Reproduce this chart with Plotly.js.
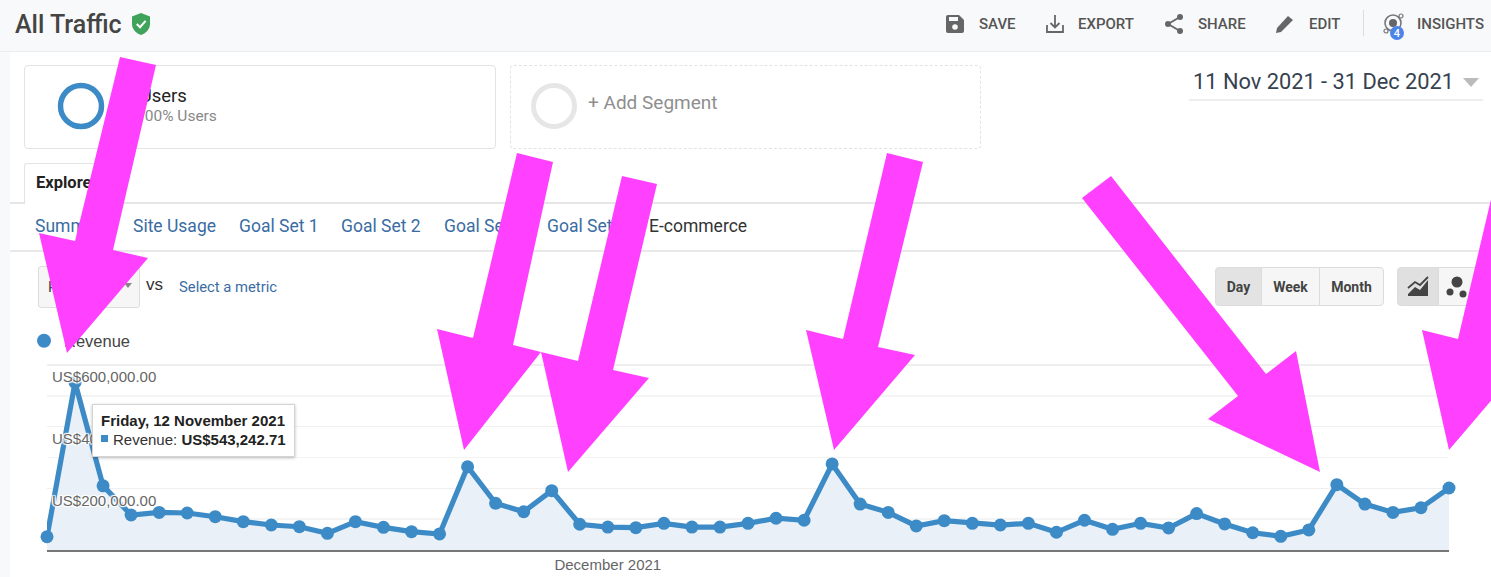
<!DOCTYPE html>
<html><head><meta charset="utf-8">
<script src="https://cdn.plot.ly/plotly-3.0.1.min.js"></script>
<style>
html,body{margin:0;padding:0;background:#fff;overflow:hidden}
#page{position:relative;width:1491px;height:577px;overflow:hidden;background:#fff;font-family:Roboto,sans-serif}
#page>*{position:absolute}
#chart{left:0;top:0;width:1491px;height:577px}
.t{white-space:nowrap;line-height:1;transform:translateY(-50%)}
.tool{font-size:15px;font-weight:500;color:#555}
.nav{font-size:17.5px;color:#3a6ca3;top:227px}
.btn{top:267px;height:39px;font-size:14px;font-weight:700;color:#444;display:flex;align-items:center;justify-content:center;background:#f6f6f6;border:1px solid #dcdcdc;box-sizing:border-box}
#tip{left:92px;top:404px;width:203px;height:53px;box-sizing:border-box;background:#fff;border:1px solid #d4d4d4;box-shadow:0 1px 3px rgba(0,0,0,.25);font-family:"Liberation Sans",Arial,sans-serif;color:#333;font-size:15px}
</style></head><body>
<div id="page">
  <div style="left:0;top:0;width:1491px;height:51px;background:#f8f9fa;border-bottom:1px solid #ececec"></div>
  <div style="left:0;top:52px;width:10px;height:525px;background:#f8f9fb"></div>

  <div class="t" style="left:15px;top:24px;font-size:25px;font-weight:500;color:#444">All Traffic</div>
  <svg style="left:130px;top:12px" width="22" height="24" viewBox="0 0 22 24"><path d="M11 1 L20 4.5 V12 C20 17.5 15.5 21.5 11 23 C6.5 21.5 2 17.5 2 12 V4.5 Z" fill="#3fa35b"/><path d="M6.8 12 L10 15.2 L15.6 8.8" fill="none" stroke="#fff" stroke-width="2"/></svg>

  <svg style="left:945px;top:14px" width="20" height="20" viewBox="0 0 20 20"><path d="M1 3 a2 2 0 0 1 2-2 H14 L19 6 V17 a2 2 0 0 1-2 2 H3 a2 2 0 0 1-2-2 Z" fill="#666"/><rect x="4" y="3" width="9" height="4" fill="#f8f9fa"/><circle cx="10" cy="13" r="2.8" fill="#f8f9fa"/></svg>
  <div class="t tool" style="left:979px;top:24px">SAVE</div>
  <svg style="left:1045px;top:14px" width="20" height="20" viewBox="0 0 20 20"><path d="M2 11 V18 H18 V11 M10 1 V13 M5.5 9 L10 13.5 L14.5 9" fill="none" stroke="#666" stroke-width="1.8"/></svg>
  <div class="t tool" style="left:1078px;top:24px">EXPORT</div>
  <svg style="left:1164px;top:13px" width="20" height="22" viewBox="0 0 20 22"><path d="M16 4 L4 11 L16 18" fill="none" stroke="#666" stroke-width="1.8"/><circle cx="16" cy="4" r="3" fill="#666"/><circle cx="4" cy="11" r="3" fill="#666"/><circle cx="16" cy="18" r="3" fill="#666"/></svg>
  <div class="t tool" style="left:1198px;top:24px">SHARE</div>
  <svg style="left:1275px;top:14px" width="20" height="20" viewBox="0 0 20 20"><path d="M1 19 L2 14 L13 2 L18 6 L6 18 Z" fill="#666"/></svg>
  <div class="t tool" style="left:1309px;top:24px">EDIT</div>
  <div style="left:1363px;top:10px;width:1px;height:26px;background:#ddd"></div>
  <svg style="left:1382px;top:12px" width="30" height="30" viewBox="0 0 30 30"><circle cx="11" cy="11" r="8" fill="none" stroke="#777" stroke-width="1.6"/><circle cx="11" cy="11" r="4" fill="#666"/><circle cx="19" cy="4" r="2" fill="none" stroke="#777" stroke-width="1.2"/><circle cx="4" cy="19" r="2" fill="none" stroke="#777" stroke-width="1.2"/><circle cx="15" cy="21" r="7" fill="#4c84ea"/><text x="15" y="25" font-size="11" font-weight="500" font-family="Roboto" fill="#fff" text-anchor="middle">4</text></svg>
  <div class="t tool" style="left:1417px;top:24px">INSIGHTS</div>

  <div style="left:24px;top:65px;width:472px;height:84px;box-sizing:border-box;background:#fff;border:1px solid #e3e3e3;border-radius:4px"></div>
  <svg style="left:50px;top:75px" width="62" height="62"><circle cx="31" cy="31" r="20.5" fill="none" stroke="#3d8bc6" stroke-width="5.5"/></svg>
  <div class="t" style="left:114px;top:96px;font-size:18.5px;color:#222">All Users</div>
  <div class="t" style="left:136px;top:117px;font-size:15.5px;color:#888">100% Users</div>
  <div style="left:510px;top:65px;width:471px;height:84px;box-sizing:border-box;background:#fff;border:1px dashed #e3e3e3;border-radius:4px"></div>
  <svg style="left:524px;top:76px" width="60" height="60"><circle cx="30" cy="30" r="20.5" fill="none" stroke="#e6e6e6" stroke-width="5"/></svg>
  <div class="t" style="left:588px;top:102px;font-size:19px;color:#8e8e8e">+ Add Segment</div>

  <div class="t" style="left:1193px;top:82px;font-size:21.8px;color:#36424f">11 Nov 2021 - 31 Dec 2021</div>
  <svg style="left:1463px;top:78px" width="16" height="9"><path d="M0 0 H16 L8 9 Z" fill="#bbb"/></svg>
  <div style="left:1189px;top:99px;width:294px;height:2px;background:#eeeeee"></div>

  <div style="left:10px;top:202px;width:1481px;height:2px;background:#e6e6e6"></div>
  <div style="left:24px;top:163px;width:90px;height:41px;box-sizing:border-box;background:#fff;border:1px solid #e3e3e3;border-bottom:none;border-radius:3px 3px 0 0"></div>
  <div class="t" style="left:36px;top:183px;font-size:16.5px;font-weight:700;color:#222">Explorer</div>
  <div style="left:10px;top:250px;width:1481px;height:2px;background:#e9e9e9"></div>
  <div class="t nav" style="left:35px">Summary</div>
  <div class="t nav" style="left:133px">Site Usage</div>
  <div class="t nav" style="left:239px">Goal Set 1</div>
  <div class="t nav" style="left:341px">Goal Set 2</div>
  <div class="t nav" style="left:444px">Goal Set 3</div>
  <div class="t nav" style="left:547px">Goal Set 4</div>
  <div class="t nav" style="left:649px;color:#333">E-commerce</div>

  <div style="left:38px;top:266px;width:102px;height:42px;box-sizing:border-box;background:#f6f6f6;border:1px solid #ddd;border-radius:3px"></div>
  <div class="t" style="left:48px;top:287px;font-size:15px;color:#444">Revenue</div>
  <svg style="left:124px;top:283px" width="8" height="5"><path d="M0 0 H8 L4 5 Z" fill="#888"/></svg>
  <div class="t" style="left:146px;top:284px;font-size:17px;color:#333;font-family:'Liberation Sans',Arial,sans-serif">vs</div>
  <div class="t" style="left:179px;top:287px;font-size:14.8px;color:#3a6ca3">Select a metric</div>

  <div class="btn" style="left:1215px;width:47px;background:#e3e3e3;border-radius:4px 0 0 4px">Day</div>
  <div class="btn" style="left:1261px;width:59px">Week</div>
  <div class="btn" style="left:1319px;width:65px;border-radius:0 4px 4px 0">Month</div>
  <div class="btn" style="left:1397px;width:42px;background:#e0e0e0;border-radius:4px 0 0 4px"><svg width="24" height="24" viewBox="0 0 24 24"><path d="M2 19 L9 12 L14 15 L22 5 V21 H2 Z" fill="#444"/><path d="M2 13 L9 7 L14 10 L22 2" fill="none" stroke="#444" stroke-width="1.8"/></svg></div>
  <div class="btn" style="left:1438px;width:60px;justify-content:flex-start;padding-left:6px"><svg width="24" height="24" viewBox="0 0 24 24"><circle cx="12" cy="7" r="5.5" fill="#444"/><circle cx="5" cy="17" r="3.5" fill="#444"/><circle cx="18" cy="19" r="3.5" fill="#444"/></svg></div>

  <div id="chart"></div>

  <div id="tip">
    <div class="t" style="position:absolute;left:8px;top:15px;font-weight:700;color:#222" id="tipDate"></div>
    <div style="position:absolute;left:8px;top:30px;width:7px;height:7px;background:#3d8bc6"></div>
    <div class="t" style="position:absolute;left:20px;top:34px" id="tipVal"></div>
  </div>

  <svg style="left:0;top:0" width="1491" height="577">
    <g fill="#ff40ff">
      <polygon points="120,57 156,65 113,250 148,258 67,353 39,233 75,241"/>
      <polygon points="517,153 553,162 513,345 541,352 464,450 437,329 473,338"/>
      <polygon points="622,176 657,184 613,370 649,378 568,472 541,352 578,361"/>
      <polygon points="887,153 923,162 878,347 915,355 834,450 806,330 843,339"/>
      <polygon points="1111,176 1082,198 1238,396 1208,419 1320,472 1296,351 1266,374"/>
      <polygon points="1502,153 1538,162 1493,347 1530,355 1449,450 1422,330 1458,339"/>
    </g>
  </svg>
</div>
<script>
var days = ["2021-11-11","2021-11-12","2021-11-13","2021-11-14","2021-11-15","2021-11-16","2021-11-17","2021-11-18","2021-11-19","2021-11-20","2021-11-21","2021-11-22","2021-11-23","2021-11-24","2021-11-25","2021-11-26","2021-11-27","2021-11-28","2021-11-29","2021-11-30",
"2021-12-01","2021-12-02","2021-12-03","2021-12-04","2021-12-05","2021-12-06","2021-12-07","2021-12-08","2021-12-09","2021-12-10","2021-12-11","2021-12-12","2021-12-13","2021-12-14","2021-12-15","2021-12-16","2021-12-17","2021-12-18","2021-12-19","2021-12-20","2021-12-21","2021-12-22","2021-12-23","2021-12-24","2021-12-25","2021-12-26","2021-12-27","2021-12-28","2021-12-29","2021-12-30","2021-12-31"];
var revenue = [43000,543242.71,208000,113500,122000,120000,108000,92000,81000,75500,54000,92000,73500,59500,52000,270000,151500,124000,192500,83500,
74500,72500,86500,74500,74500,86500,103000,96500,279000,149000,122000,78000,95000,86500,81000,86500,57500,96500,67000,86500,71500,118000,84500,56000,44500,65000,212000,149000,122000,137000,201000];
var seriesName = "Revenue";
var yTicks = [0,200000,400000,600000];
var yLabels = ["","US$200,000.00","US$400,000.00","US$600,000.00"];
var yMinor = [100000,300000,500000];
var xTicks = ["2021-12-01"];
var xLabels = ["December 2021"];
var tipDate = "Friday, 12 November 2021";
var tipValue = "US$543,242.71";

document.getElementById('tipDate').textContent = tipDate;
document.getElementById('tipVal').innerHTML = seriesName + ': <b style="color:#222">' + tipValue + '</b>';

var W = 1491, H = 577, blue = "#3d8bc6", arial = '"Liberation Sans",Arial,sans-serif';
var halo = '1px 1px 1px #fff, -1px -1px 1px #fff, 1px -1px 1px #fff, -1px 1px 1px #fff, 0 0 2px #fff';
var traces = [
 {type:'scatter',x:days,y:revenue,mode:'lines+markers',name:seriesName,showlegend:false,cliponaxis:false,
  line:{color:blue,width:5.2},marker:{color:blue,size:13},fill:'tozeroy',fillcolor:'#e9f0f8'},
 {type:'scatter',x:[null],y:[null],mode:'markers',name:seriesName,showlegend:true,marker:{color:blue,size:14}}
];
var layout = {
 width:W,height:H,margin:{l:0,r:0,t:0,b:0,pad:0},
 paper_bgcolor:'rgba(0,0,0,0)',plot_bgcolor:'rgba(0,0,0,0)',
 font:{family:arial,color:'#666',size:15},
 showlegend:true,
 legend:{x:24/W,y:1-341/H,xanchor:'left',yanchor:'middle',bgcolor:'rgba(0,0,0,0)',font:{size:16.5,color:'#444',family:arial},itemwidth:30,itemclick:false,itemdoubleclick:false},
 xaxis:{type:'date',domain:[47/W,1449/W],range:[days[0],days[days.length-1]],tickmode:'array',tickvals:xTicks,ticktext:xLabels,
  showgrid:false,zeroline:false,showline:true,linecolor:'#777',linewidth:2,ticks:'',tickfont:{size:15,color:'#666',family:arial},automargin:false,fixedrange:true},
 yaxis:{domain:[1-550/H,1-360/H],range:[0,616216],tickmode:'array',tickvals:yTicks,ticktext:yLabels,
  ticklabelposition:'inside',ticklabelstandoff:2,ticklabelshift:12,
  showgrid:true,gridcolor:'#efefef',gridwidth:1.5,zeroline:false,showline:false,ticks:'',
  tickfont:{size:15,color:'#666',family:arial,shadow:halo},automargin:false,fixedrange:true,
  minor:{tickmode:'array',tickvals:yMinor,showgrid:true,gridcolor:'#f4f4f4',gridwidth:1.5,ticks:''}}
};
Plotly.newPlot('chart',traces,layout,{displayModeBar:false,staticPlot:true});
</script>
</body></html>
